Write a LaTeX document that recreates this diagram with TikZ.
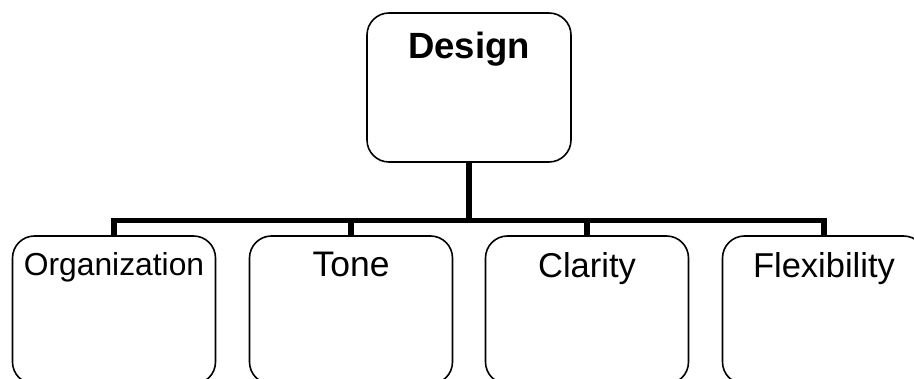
\documentclass[tikz,border=0pt]{standalone}
\usepackage{fontspec}
\setmainfont{Liberation Sans}
\begin{document}
\begin{tikzpicture}[x=1pt,y=-1pt,
  box/.style={draw, line width=1.6pt, rounded corners=22pt, minimum width=203pt, inner sep=0pt},
  conn/.style={line width=5.6pt},
  lab/.style={font=\fontsize{34.5}{40}\selectfont, inner sep=0pt}]
\useasboundingbox (0,0) rectangle (914,379);
\clip (0,0) rectangle (914,379);
\fill[white] (0,0) rectangle (914,379);
\node[box, minimum width=204pt, minimum height=149pt,
  label={[lab, font=\bfseries\fontsize{36.5}{40}\selectfont, anchor=north, label distance=-20pt]90:Design}] (design) at (469,87.5) {};
\node[box, minimum height=148pt,
  label={[lab, font=\fontsize{31.8}{36}\selectfont, anchor=north, label distance=-17.5pt]90:Organization}] (org) at (114,310) {};
\node[box, minimum height=148pt,
  label={[lab, font=\fontsize{35.5}{40}\selectfont, anchor=north, label distance=-17pt]90:Tone}] (tone) at (351,310) {};
\node[box, minimum height=148pt,
  label={[lab, anchor=north, label distance=-17pt]90:Clarity}] (clar) at (587,310) {};
\node[box, minimum height=148pt,
  label={[lab, anchor=north, label distance=-17pt]90:Flexibility}] (flex) at (824,310) {};
\coordinate (hub) at (469,220.5);
\draw[conn] (design.south) -- (hub);
\draw[conn] (org.north) |- (hub) -| (flex.north);
\draw[conn] (tone.north) -- (tone.north |- hub);
\draw[conn] (clar.north) -- (clar.north |- hub);
\end{tikzpicture}
\end{document}
